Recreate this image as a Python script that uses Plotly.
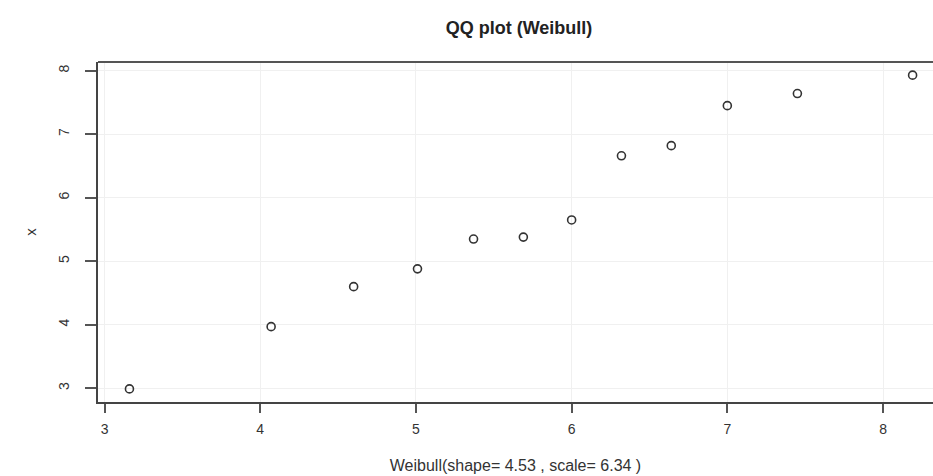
import plotly.graph_objects as go

# Theoretical Weibull quantiles (x-axis) and sample values (y-axis)
weibull_q = [3.16, 4.07, 4.60, 5.01, 5.37, 5.69, 6.00, 6.32, 6.64, 7.00, 7.45, 8.19]
sample_x = [2.99, 3.97, 4.60, 4.88, 5.35, 5.38, 5.65, 6.66, 6.82, 7.45, 7.64, 7.93]
x_ticks = [3, 4, 5, 6, 7, 8]
y_ticks = [3, 4, 5, 6, 7, 8]

fig = go.Figure()
fig.add_trace(go.Scatter(
    x=weibull_q, y=sample_x, mode="markers",
    marker=dict(symbol="circle-open", size=8, color="#333333", line=dict(width=1.6)),
    showlegend=False,
))

font = dict(family="Liberation Sans, Arial, sans-serif", size=15, color="#333333")
fig.update_layout(
    width=933, height=476,
    margin=dict(l=98, r=0, t=62, b=74),
    paper_bgcolor="white", plot_bgcolor="white",
    font=font,
    title=dict(text="<b>QQ plot (Weibull)</b>", x=519 / 933, xanchor="center",
               y=1 - 28 / 476, yanchor="middle", font=dict(size=18, color="#222222")),
    xaxis=dict(range=[2.958, 8.321], tickvals=x_ticks, ticktext=[str(v) for v in x_ticks],
               showline=True, linecolor="#444444", linewidth=2, mirror=False,
               ticks="outside", ticklen=9, tickwidth=1.5, tickcolor="#555555",
               ticklabelstandoff=4, tickfont=dict(size=14),
               showgrid=True, gridcolor="#f0f0f0", gridwidth=1, zeroline=False,
               title=dict(text="Weibull(shape= 4.53 , scale= 6.34 )", standoff=24,
                          font=dict(size=16))),
    yaxis=dict(range=[2.784, 8.137], tickvals=y_ticks, ticktext=[str(v) for v in y_ticks],
               tickangle=-90,
               showline=True, linecolor="#444444", linewidth=2, mirror=False,
               ticks="outside", ticklen=11, tickwidth=1.5, tickcolor="#555555",
               ticklabelstandoff=10, tickfont=dict(size=14),
               showgrid=True, gridcolor="#f0f0f0", gridwidth=1, zeroline=False,
               title=dict(text="x", standoff=16, font=dict(size=15))),
    shapes=[dict(type="line", xref="paper", yref="paper", x0=0, x1=1, y0=1, y1=1,
                 line=dict(color="#555555", width=2))],
)

fig.write_html("out.html")
